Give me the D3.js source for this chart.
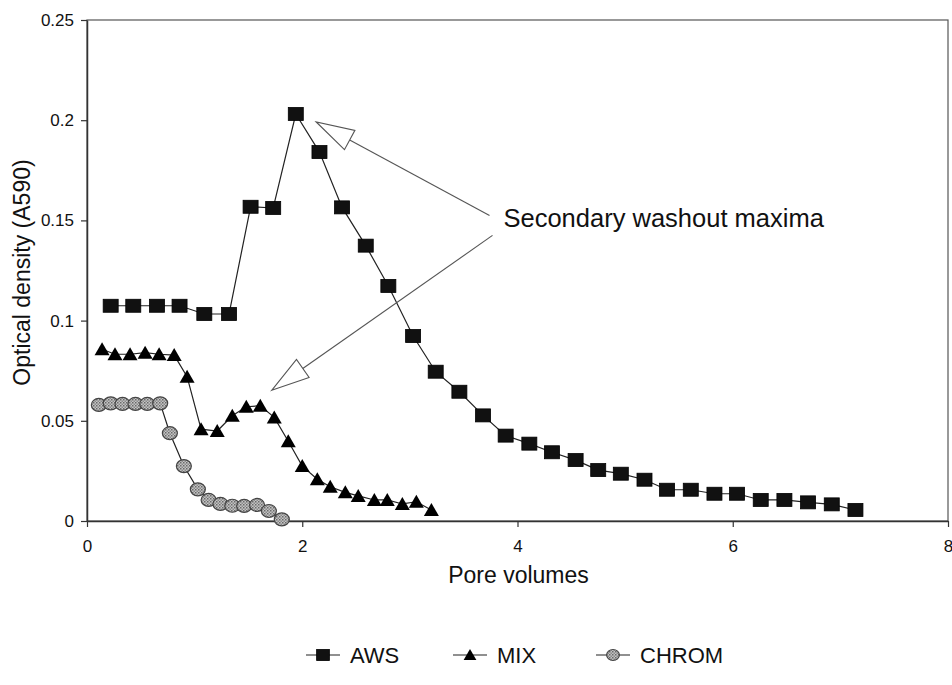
<!DOCTYPE html>
<html>
<head>
<meta charset="utf-8">
<script src="https://cdn.jsdelivr.net/npm/d3@7"></script>
<style>
  html, body { margin: 0; padding: 0; background: #fff; }
  svg { display: block; font-family: "Liberation Sans", Arial, sans-serif; }
</style>
</head>
<body>
<svg id="chart" width="952" height="685"></svg>
<script>
// ---- data ----
const seriesNames = ["AWS", "MIX", "CHROM"];

const awsX = [0.22,0.43,0.65,0.86,1.09,1.32,1.52,1.73,1.94,2.16,2.37,2.59,2.80,3.03,3.24,3.46,3.68,3.89,4.11,4.32,4.54,4.75,4.96,5.18,5.39,5.61,5.83,6.04,6.26,6.48,6.70,6.92,7.14];
const awsY = [0.1074,0.1074,0.1074,0.1074,0.1033,0.1033,0.1568,0.1562,0.2031,0.1841,0.1565,0.1374,0.1173,0.0923,0.0745,0.0645,0.0527,0.0426,0.0386,0.0343,0.0304,0.0254,0.0236,0.0206,0.0156,0.0156,0.0136,0.0136,0.0105,0.0105,0.0093,0.0083,0.0055];

const mixX = [0.14,0.26,0.40,0.54,0.67,0.81,0.93,1.06,1.21,1.35,1.48,1.61,1.74,1.87,2.00,2.14,2.26,2.40,2.52,2.67,2.79,2.93,3.06,3.20];
const mixY = [0.0857,0.0832,0.0832,0.0840,0.0832,0.0828,0.0720,0.0458,0.0449,0.0525,0.0570,0.0575,0.0517,0.0398,0.0274,0.0208,0.0171,0.0143,0.0125,0.0105,0.0105,0.0085,0.0096,0.0055];

const chromX = [0.11,0.22,0.33,0.45,0.56,0.68,0.77,0.90,1.03,1.13,1.24,1.35,1.46,1.58,1.69,1.81];
const chromY = [0.0579,0.0587,0.0584,0.0584,0.0584,0.0587,0.0438,0.0274,0.0158,0.0105,0.0085,0.0076,0.0075,0.0080,0.0050,0.0008];

const xTicks = [0, 2, 4, 6, 8];
const yTicks = [0, 0.05, 0.1, 0.15, 0.2, 0.25];
const yTickLabels = ["0", "0.05", "0.1", "0.15", "0.2", "0.25"];

const xTitle = "Pore volumes";
const yTitle = "Optical density (A590)";
const annotationText = "Secondary washout maxima";
// annotation arrows in data units: [tipX, tipY]
const arrowTips = [[2.13, 0.1991], [1.716, 0.0652]];
const annotationAnchor = [3.87, 0.1465];

// ---- layout ----
const svg = d3.select("#chart");
const mLeft = 87, mRight = 948, mTop = 20, mBottom = 521;

const x = d3.scaleLinear().domain([0, 8]).range([mLeft, mRight]);
const y = d3.scaleLinear().domain([0, 0.25]).range([mBottom, mTop]);

// defs: hatched pattern for CHROM markers
const defs = svg.append("defs");
const pat = defs.append("pattern").attr("id", "chromPat")
  .attr("width", 3).attr("height", 3).attr("patternUnits", "userSpaceOnUse");
pat.append("rect").attr("width", 3).attr("height", 3).attr("fill", "#c4c4c4");
pat.append("rect").attr("x", 0).attr("y", 0).attr("width", 1.5).attr("height", 1.5).attr("fill", "#6a6a6a");
pat.append("rect").attr("x", 1.5).attr("y", 1.5).attr("width", 1.5).attr("height", 1.5).attr("fill", "#8a8a8a");

// frame
svg.append("rect").attr("x", mLeft).attr("y", mTop)
  .attr("width", mRight - mLeft).attr("height", mBottom - mTop)
  .attr("fill", "none").attr("stroke", "#555").attr("stroke-width", 1.2);

// axes
const yAxis = d3.axisLeft(y).tickValues(yTicks)
  .tickFormat((d, i) => yTickLabels[i]).tickSize(6).tickSizeOuter(0);
const gy = svg.append("g").attr("transform", `translate(${mLeft},0)`).call(yAxis);
gy.select(".domain").attr("stroke", "#333").attr("stroke-width", 1.5);
gy.selectAll(".tick line").attr("stroke", "#333").attr("stroke-width", 1.2);
gy.selectAll(".tick text").attr("font-size", 17).attr("fill", "#111")
  .attr("font-family", "Liberation Sans, Arial, sans-serif").attr("x", -13);

const xAxis = d3.axisBottom(x).tickValues(xTicks).tickFormat(d3.format("d"))
  .tickSize(6).tickSizeOuter(0);
const gx = svg.append("g").attr("transform", `translate(0,${mBottom})`).call(xAxis);
gx.select(".domain").attr("stroke", "#333").attr("stroke-width", 1.5);
gx.selectAll(".tick line").attr("stroke", "#333").attr("stroke-width", 1.2);
gx.selectAll(".tick text").attr("font-size", 17).attr("fill", "#111")
  .attr("font-family", "Liberation Sans, Arial, sans-serif").attr("y", 19);

// axis titles
svg.append("text").attr("x", (mLeft + mRight) / 2 + 1).attr("y", 583)
  .attr("text-anchor", "middle").attr("font-size", 23).attr("fill", "#111")
  .text(xTitle);
svg.append("text")
  .attr("transform", `translate(30,${(mTop + mBottom) / 2 + 2}) rotate(-90)`)
  .attr("text-anchor", "middle").attr("font-size", 23).attr("fill", "#111")
  .text(yTitle);

// markers
function square(g, cx, cy, s = 1) {
  g.append("rect").attr("x", cx - 7.5 * s).attr("y", cy - 6.5 * s).attr("width", 15 * s).attr("height", 13 * s)
    .attr("fill", "#111").attr("stroke", "#000").attr("stroke-width", 0.8);
}
function triangle(g, cx, cy, s = 1) {
  g.append("path").attr("d", `M${cx},${cy - 7 * s}L${cx + 7.5 * s},${cy + 6 * s}L${cx - 7.5 * s},${cy + 6 * s}Z`)
    .attr("fill", "#000");
}
function circle(g, cx, cy, s = 1) {
  g.append("ellipse").attr("cx", cx).attr("cy", cy).attr("rx", 7.5 * s).attr("ry", 6.5 * s)
    .attr("fill", "url(#chromPat)").attr("stroke", "#444").attr("stroke-width", 1.2);
}

const series = [
  { name: seriesNames[0], xs: awsX, ys: awsY, mark: square },
  { name: seriesNames[1], xs: mixX, ys: mixY, mark: triangle },
  { name: seriesNames[2], xs: chromX, ys: chromY, mark: circle }
];

const line = d3.line().x(d => x(d[0])).y(d => y(d[1]));

// draw in reverse so AWS on top
series.slice().reverse().forEach(s => {
  const pts = s.xs.map((v, i) => [v, s.ys[i]]);
  const g = svg.append("g");
  g.append("path").attr("d", line(pts)).attr("fill", "none")
    .attr("stroke", "#222").attr("stroke-width", 1.2);
  pts.forEach(p => s.mark(g, x(p[0]), y(p[1])));
});

// annotation
const ax = x(annotationAnchor[0]), ay = y(annotationAnchor[1]);
svg.append("text").attr("x", ax).attr("y", ay).attr("font-size", 25.5).attr("fill", "#111")
  .text(annotationText);

const starts = [[ax - 14, ay - 12], [ax - 11, ay + 8]];
arrowTips.forEach((t, i) => {
  const tx = x(t[0]), ty = y(t[1]);
  const [sx, sy] = starts[i];
  const dx = sx - tx, dy = sy - ty;
  const len = Math.hypot(dx, dy);
  const ux = dx / len, uy = dy / len;
  const headLen = 38, headHalf = 11;
  const bx = tx + ux * headLen, by = ty + uy * headLen;
  const px = -uy, py = ux;
  svg.append("line").attr("x1", sx).attr("y1", sy).attr("x2", bx).attr("y2", by)
    .attr("stroke", "#555").attr("stroke-width", 1.1);
  svg.append("path")
    .attr("d", `M${tx},${ty}L${bx + px * headHalf},${by + py * headHalf}L${bx - px * headHalf},${by - py * headHalf}Z`)
    .attr("fill", "#fff").attr("stroke", "#555").attr("stroke-width", 1.1);
});

// legend
const legY = 655;
const legItems = [
  { cx: 323, mark: square, name: seriesNames[0] },
  { cx: 470, mark: triangle, name: seriesNames[1] },
  { cx: 613, mark: circle, name: seriesNames[2] }
];
legItems.forEach(it => {
  const g = svg.append("g");
  g.append("line").attr("x1", it.cx - 17).attr("x2", it.cx + 17).attr("y1", legY).attr("y2", legY)
    .attr("stroke", "#222").attr("stroke-width", 1.2);
  it.mark(g, it.cx, legY, 0.85);
  g.append("text").attr("x", it.cx + 27).attr("y", legY + 8).attr("font-size", 22).attr("fill", "#111")
    .text(it.name);
});
</script>
</body>
</html>
